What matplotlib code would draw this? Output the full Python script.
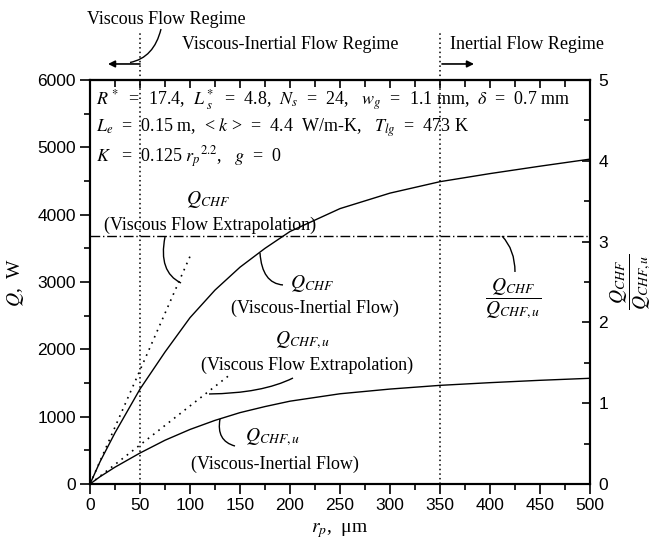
import matplotlib
matplotlib.use("Agg")
import matplotlib.pyplot as plt
from matplotlib.path import Path
from matplotlib.patches import PathPatch
from matplotlib.ticker import MultipleLocator

# ---------------- data ----------------
r_p = [0, 10, 25, 50, 75, 100, 125, 150, 175, 200, 250, 300, 350, 400, 450, 500]
q_chf = [0, 330, 760, 1410, 1960, 2470, 2880, 3220, 3500, 3750, 4090, 4320, 4490, 4610, 4720, 4825]
q_chf_u = [0, 108, 250, 460, 650, 810, 945, 1060, 1150, 1230, 1340, 1410, 1465, 1505, 1540, 1570]
visc_extrap_r = [0, 100]
visc_extrap_q = [0, 3380]
visc_extrap_u_r = [0, 138]
visc_extrap_u_q = [0, 1600]
ratio_r = [0, 500]
ratio_val = [3.07, 3.07]
regime_bounds = [50, 350]

x_ticks = [0, 50, 100, 150, 200, 250, 300, 350, 400, 450, 500]
y_ticks = [0, 1000, 2000, 3000, 4000, 5000, 6000]
y2_ticks = [0, 1, 2, 3, 4, 5]

# ---------------- style ----------------
plt.rcParams['font.family'] = ['Liberation Serif', 'DejaVu Serif']
plt.rcParams['mathtext.fontset'] = 'stix'
SANS = 'Liberation Sans'
FS = 13

fig = plt.figure(figsize=(6.59, 5.45), dpi=100)
ax = fig.add_axes([90/659, 1-484/545, 500/659, 404/545])

ax.plot(r_p, q_chf, color='black', lw=1.0)
ax.plot(r_p, q_chf_u, color='black', lw=1.0)
ax.plot(visc_extrap_r, visc_extrap_q, color='black', lw=1.2, linestyle=(0, (1, 3)))
ax.plot(visc_extrap_u_r, visc_extrap_u_q, color='black', lw=1.2, linestyle=(0, (1, 3)))

for xb in regime_bounds:
    ax.plot([xb, xb], [0, 6700], color='black', lw=1.1, linestyle=(0, (1, 2)),
            clip_on=False)

ax.set_xlim(0, 500)
ax.set_ylim(0, 6000)
ax.set_xticks(x_ticks)
ax.set_yticks(y_ticks)
ax.xaxis.set_minor_locator(MultipleLocator(25))
ax.yaxis.set_minor_locator(MultipleLocator(500))
ax.tick_params(axis='both', which='major', direction='out', length=7, width=1.2,
               labelsize=12.5, pad=3)
ax.tick_params(axis='both', which='minor', direction='out', length=4, width=1.2)
for lab in ax.get_xticklabels() + ax.get_yticklabels():
    lab.set_family(SANS)
for s in ax.spines.values():
    s.set_linewidth(1.5)

# top mirrored ticks (inward)
top = ax.secondary_xaxis('top')
top.set_xticks(x_ticks)
top.xaxis.set_minor_locator(MultipleLocator(25))
top.tick_params(axis='x', which='major', direction='in', length=6, width=1.2, labeltop=False)
top.tick_params(axis='x', which='minor', direction='in', length=5, width=1.2)
top.spines['top'].set_linewidth(1.5)

# right axis: ratio
ax2 = ax.twinx()
ax2.plot(ratio_r, ratio_val, color='black', lw=1.0, linestyle=(0, (7, 2, 1, 2)))
ax2.set_ylim(0, 5)
ax2.set_yticks(y2_ticks)
ax2.yaxis.set_minor_locator(MultipleLocator(0.5))
ax2.tick_params(axis='y', which='major', direction='in', length=6, width=1.2,
                labelsize=12.5, pad=6)
ax2.tick_params(axis='y', which='minor', direction='in', length=4, width=1.2)
for lab in ax2.get_yticklabels():
    lab.set_family(SANS)
for s in ax2.spines.values():
    s.set_linewidth(1.5)

ax.set_xlabel(r'$r_p$,  μm', fontsize=14, labelpad=6)
ax.set_ylabel(r'$Q$,  W', fontsize=14, labelpad=8)
ax2.set_ylabel(r'$\dfrac{Q_{CHF}}{Q_{CHF,u}}$', fontsize=14, labelpad=0)

# ---------------- annotations ----------------
def leader(p0, pc, p1):
    path = Path([p0, pc, p1], [Path.MOVETO, Path.CURVE3, Path.CURVE3])
    ax.add_patch(PathPatch(path, facecolor='none', edgecolor='black', lw=1.0,
                           clip_on=False))

# regime labels above the plot
ax.text(76, 6900, 'Viscous Flow Regime', fontsize=FS, ha='center', va='center')
ax.text(200, 6520, 'Viscous-Inertial Flow Regime', fontsize=FS, ha='center', va='center')
ax.text(437, 6520, 'Inertial Flow Regime', fontsize=FS, ha='center', va='center')
leader((71, 6757), (64, 6330), (40, 6260))
ax.annotate('', xy=(18, 6238), xytext=(50, 6238), annotation_clip=False,
            arrowprops=dict(arrowstyle='-|>', color='black', lw=1.2, mutation_scale=10,
                            shrinkA=0, shrinkB=0))
ax.annotate('', xy=(384, 6238), xytext=(352, 6238), annotation_clip=False,
            arrowprops=dict(arrowstyle='-|>', color='black', lw=1.2, mutation_scale=10,
                            shrinkA=0, shrinkB=0))

# parameter block
ax.text(6, 5703, r'$R^*$  =  17.4,  $L^*_{\ s}$  =  4.8,  $N_s$  =  24,   $w_g$  =  1.1 mm,  $\delta$  =  0.7 mm',
        fontsize=FS, ha='left', va='center')
ax.text(6, 5287, r'$L_e$  =  0.15 m,  < $k$ >  =  4.4  W/m-K,   $T_{lg}$  =  473 K',
        fontsize=FS, ha='left', va='center')
ax.text(6, 4857, r'$K$   =  0.125 $r_p{}^{2.2}$,   $g$  =  0',
        fontsize=FS, ha='left', va='center')

# curve labels
ax.text(118, 4218, r'$Q_{CHF}$', fontsize=14, ha='center', va='center')
ax.text(120, 3846, '(Viscous Flow Extrapolation)', fontsize=FS, ha='center', va='center')
leader((75, 3668), (68, 3150), (91, 2985))

ax.text(222, 2985, r'$Q_{CHF}$', fontsize=14, ha='center', va='center')
ax.text(225, 2614, '(Viscous-Inertial Flow)', fontsize=FS, ha='center', va='center')
leader((170, 3431), (172, 2980), (193, 2956))

ax.text(213, 2139, r'$Q_{CHF,u}$', fontsize=14, ha='center', va='center')
ax.text(217, 1767, '(Viscous Flow Extrapolation)', fontsize=FS, ha='center', va='center')
leader((203, 1574), (172, 1345), (119, 1337))

ax.text(183, 698, r'$Q_{CHF,u}$', fontsize=14, ha='center', va='center')
ax.text(185, 297, '(Viscous-Inertial Flow)', fontsize=FS, ha='center', va='center')
leader((130, 965), (126, 640), (145, 564))

ax.text(423, 2760, r'$\dfrac{Q_{CHF}}{Q_{CHF,u}}$', fontsize=14, ha='center', va='center')
leader((412, 3683), (425, 3480), (425, 3149))

fig.savefig('out.png', dpi=100)
